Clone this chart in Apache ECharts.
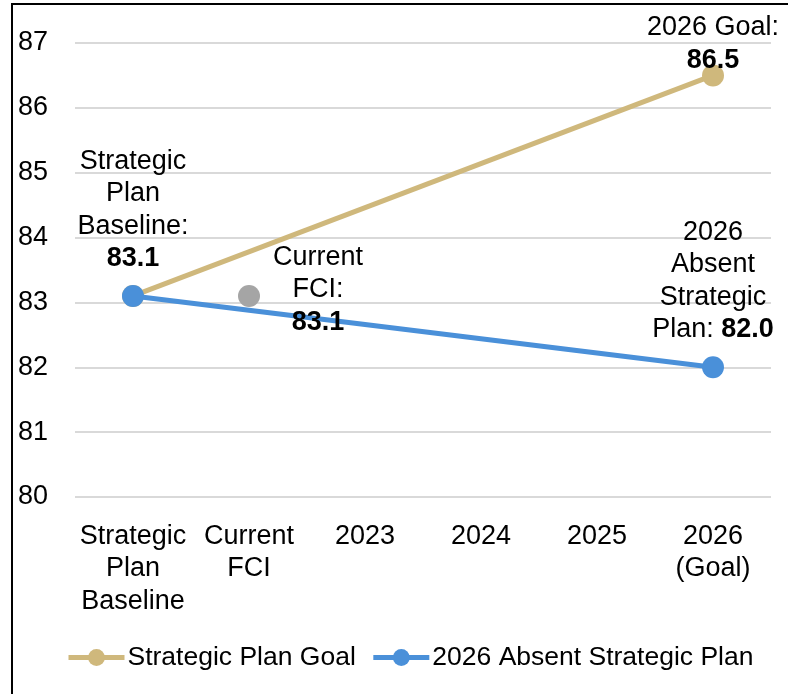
<!DOCTYPE html>
<html>
<head>
<meta charset="utf-8">
<script src="https://cdn.jsdelivr.net/npm/echarts@6/dist/echarts.min.js"></script>
<style>
  html, body { margin: 0; padding: 0; background: #fff; }
  #main { width: 788px; height: 694px; }
</style>
</head>
<body>
<div id="main"></div>
<script>
// categories on the x axis
var categories = ['Strategic\nPlan\nBaseline', 'Current\nFCI', '2023', '2024', '2025', '2026\n(Goal)'];
// series values (null = no point, line joins across)
var goalValues = [83.1, null, null, null, null, 86.5];
var absentValues = [83.1, null, null, null, null, 82.0];
var currentFciValues = [null, 83.1, null, null, null, null];
var yTicks = [80, 81, 82, 83, 84, 85, 86, 87];

var FONT = '"Liberation Sans", Arial, Helvetica, sans-serif';
var FS = 27;
var GOLD = '#CFB87C';
var BLUE = '#4A90D9';
var GRAY = '#A5A5A5';

var richStyle = {
  n: { fontSize: FS, fontFamily: FONT, color: '#000', lineHeight: 32.5 },
  b: { fontSize: FS, fontFamily: FONT, color: '#000', fontWeight: 'bold', lineHeight: 32.5 }
};

// labels sit on the end points only
function withLabels(values, labels) {
  return values.map(function (v, i) {
    if (v == null) return null;
    var item = { value: v };
    if (labels[i]) item.label = labels[i];
    return item;
  });
}

var goalData = withLabels(goalValues, {
  5: { show: true, position: 'top', distance: -12,
       formatter: '{n|2026 Goal:}\n{b|' + goalValues[5].toFixed(1) + '}', rich: richStyle }
});
var absentData = withLabels(absentValues, {
  0: { show: true, position: 'top', distance: 10,
       formatter: '{n|Strategic}\n{n|Plan}\n{n|Baseline:}\n{b|' + absentValues[0].toFixed(1) + '}', rich: richStyle },
  5: { show: true, position: 'top', distance: 10,
       formatter: '{n|2026}\n{n|Absent}\n{n|Strategic}\n{n|Plan: }{b|' + absentValues[5].toFixed(1) + '}', rich: richStyle }
});
var fciData = withLabels(currentFciValues, {
  1: { show: true, position: 'right', distance: 10, align: 'center', offset: [48, -6],
       formatter: '{n|Current}\n{n|FCI:}\n{b|' + currentFciValues[1].toFixed(1) + '}', rich: richStyle }
});

var myChart = echarts.init(document.getElementById('main'));
var option = {
  backgroundColor: '#fff',
  animation: false,
  graphic: [{
    type: 'rect',
    shape: { x: 12, y: 4, width: 800, height: 720 },
    style: { fill: 'none', stroke: '#000', lineWidth: 2 },
    silent: true
  }],
  grid: { left: 75, right: 17, top: 43, bottom: 197 },
  legend: {
    bottom: 18,
    left: 61,
    itemWidth: 56,
    itemHeight: 21,
    itemGap: 15,
    lineStyle: { width: 5 },
    textStyle: { fontSize: 26.5, fontFamily: FONT, color: '#000', padding: [0, 0, 0, -2] },
    data: ['Strategic Plan Goal', '2026 Absent Strategic Plan']
  },
  xAxis: {
    type: 'category',
    data: categories,
    boundaryGap: true,
    axisLine: { show: false },
    axisTick: { show: false },
    axisLabel: {
      interval: 0, margin: 23, fontSize: FS, fontFamily: FONT, color: '#000', lineHeight: 32.5
    }
  },
  yAxis: {
    type: 'value',
    min: yTicks[0],
    max: yTicks[yTicks.length - 1],
    interval: 1,
    axisLine: { show: false },
    axisTick: { show: false },
    axisLabel: { margin: 27, fontSize: FS, fontFamily: FONT, color: '#000' },
    splitLine: { lineStyle: { color: '#D9D9D9', width: 2 } }
  },
  series: [
    {
      name: 'Strategic Plan Goal',
      type: 'line',
      data: goalData,
      connectNulls: true,
      symbol: 'circle',
      symbolSize: 22,
      color: GOLD,
      lineStyle: { width: 5, color: GOLD },
      itemStyle: { color: GOLD },
      z: 2
    },
    {
      name: '2026 Absent Strategic Plan',
      type: 'line',
      data: absentData,
      connectNulls: true,
      symbol: 'circle',
      symbolSize: 22,
      color: BLUE,
      lineStyle: { width: 5, color: BLUE },
      itemStyle: { color: BLUE },
      z: 3
    },
    {
      name: 'Current FCI',
      type: 'line',
      data: fciData,
      symbol: 'circle',
      symbolSize: 22,
      color: GRAY,
      lineStyle: { width: 0 },
      itemStyle: { color: GRAY },
      z: 4
    }
  ]
};
myChart.setOption(option);
</script>
</body>
</html>
